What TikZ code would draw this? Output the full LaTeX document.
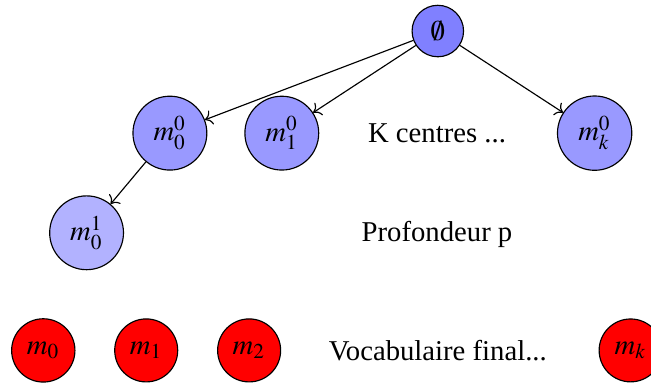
\documentclass[tikz,border=0pt]{standalone}
\usepackage{mathptmx}
\usepackage[no-math]{fontspec}
\setmainfont{Liberation Serif}
\usetikzlibrary{arrows.meta, positioning}

\begin{document}
\begin{tikzpicture}[
  centre/.style={draw, circle, fill=blue!40},
  racine/.style={draw, circle, fill=blue!50},
  fils/.style={draw, circle, fill=blue!30},
  final/.style={draw, circle, fill=red}]
  \useasboundingbox (0,0) rectangle (7.97,-4.71);

  % Racine et premier niveau
  \node[racine] (root) at (5.36,-0.38) {$\emptyset$};
  \node[centre] (m00) at (2.08,-1.63) {$m_0^0$};
  \node[centre] (m01) at (3.45,-1.63) {$m_1^0$};
  \node (kc) at (5.35,-1.63) {K centres ...};
  \node[centre] (m0k) at (7.28,-1.63) {$m_k^0$};

  % Profondeur
  \node[fils] (m10) at (1.06,-2.85) {$m_0^1$};
  \node (prof) at (5.35,-2.87) {Profondeur p};

  % Vocabulaire final
  \foreach \i/\x in {0/0.53,1/1.79,2/3.05} {
    \node[final] (m\i) at (\x,-4.29) {$m_{\i}$};
  }
  \node (vocab) at (5.36,-4.29) {Vocabulaire final...};
  \node[final] (mk) at (7.72,-4.29) {$m_k$};

  \draw[->] (root) -- (m00);
  \draw[->] (root) -- (m01);
  \draw[->] (root) -- (m0k);
  \draw[->] (m00) -- (m10);
\end{tikzpicture}
\end{document}
